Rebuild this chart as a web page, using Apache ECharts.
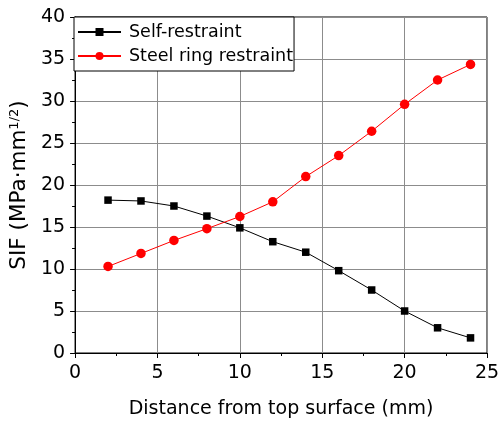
<!DOCTYPE html>
<html>
<head>
<meta charset="utf-8">
<script src="https://cdn.jsdelivr.net/npm/echarts@6/dist/echarts.min.js"></script>
<style>
  html, body { margin: 0; padding: 0; background: #fff; }
  #chart { width: 503px; height: 425px; }
</style>
</head>
<body>
<div id="chart"></div>
<script>
// Distance from top surface (mm)
const distance = [2, 4, 6, 8, 10, 12, 14, 16, 18, 20, 22, 24];
// Stress intensity factor, MPa·mm^1/2
const selfRestraint = [18.2, 18.1, 17.5, 16.3, 14.9, 13.25, 12.0, 9.8, 7.5, 5.0, 3.0, 1.8];
const steelRingRestraint = [10.3, 11.85, 13.4, 14.8, 16.25, 18.0, 21.0, 23.5, 26.4, 29.6, 32.5, 34.35];
const seriesNames = ['Self-restraint', 'Steel ring restraint'];

const FONT = 'DejaVu Sans';
const pair = (xs, ys) => xs.map((x, i) => [x, ys[i]]);

const chart = echarts.init(document.getElementById('chart'), null, { renderer: 'canvas' });

chart.setOption({
  animation: false,
  backgroundColor: '#fff',
  textStyle: { fontFamily: FONT, color: '#000' },
  grid: {
    left: 74, right: 16, top: 17, bottom: 72,
    show: true, borderColor: '#000', borderWidth: 1, backgroundColor: 'transparent'
  },
  legend: {
    data: seriesNames,
    orient: 'vertical',
    left: 74, top: 17,
    padding: [6, 1, 6, 3],
    itemGap: 6,
    itemWidth: 43,
    itemHeight: 10,
    backgroundColor: '#fff',
    borderColor: '#000',
    borderWidth: 1,
    textStyle: { fontFamily: FONT, fontSize: 17.5, color: '#000', padding: [0, 0, 0, 3] }
  },
  xAxis: {
    type: 'value',
    min: 0, max: 25, interval: 5,
    name: 'Distance from top surface (mm)',
    nameLocation: 'middle',
    nameGap: 47,
    nameTextStyle: { fontFamily: FONT, fontSize: 19, color: '#000' },
    axisLine: { show: true, onZero: false, lineStyle: { color: '#000', width: 1 } },
    axisTick: { show: true, length: 5, lineStyle: { color: '#000' } },
    minorTick: { show: true, splitNumber: 2, length: 3, lineStyle: { color: '#000' } },
    axisLabel: { fontFamily: FONT, fontSize: 19, color: '#000', margin: 11 },
    splitLine: { show: true, lineStyle: { color: '#8c8c8c', width: 1 } }
  },
  yAxis: {
    type: 'value',
    min: 0, max: 40, interval: 5,
    name: '{a|SIF (MPa·mm}{s|1/2}{a|)}',
    nameLocation: 'middle',
    nameRotate: 90,
    nameGap: 35,
    nameTextStyle: {
      fontFamily: FONT, color: '#000',
      rich: {
        a: { fontFamily: FONT, fontSize: 21.5, color: '#000' },
        s: { fontFamily: FONT, fontSize: 13, color: '#000', verticalAlign: 'top', padding: [0, 0, 9, 0] }
      }
    },
    axisLine: { show: true, onZero: false, lineStyle: { color: '#000', width: 1 } },
    axisTick: { show: true, length: 5, lineStyle: { color: '#000' } },
    minorTick: { show: true, splitNumber: 2, length: 3, lineStyle: { color: '#000' } },
    axisLabel: { fontFamily: FONT, fontSize: 19, color: '#000', margin: 10 },
    splitLine: { show: true, lineStyle: { color: '#8c8c8c', width: 1 } }
  },
  series: [
    {
      name: seriesNames[0],
      type: 'line',
      data: pair(distance, selfRestraint),
      symbol: 'rect',
      symbolSize: 7.5,
      itemStyle: { color: '#000' },
      lineStyle: { color: '#000', width: 1 },
      z: 3
    },
    {
      name: seriesNames[1],
      type: 'line',
      data: pair(distance, steelRingRestraint),
      symbol: 'circle',
      symbolSize: 9.5,
      itemStyle: { color: '#ff0000' },
      lineStyle: { color: '#ff0000', width: 1 },
      z: 3
    }
  ]
});
</script>
</body>
</html>
